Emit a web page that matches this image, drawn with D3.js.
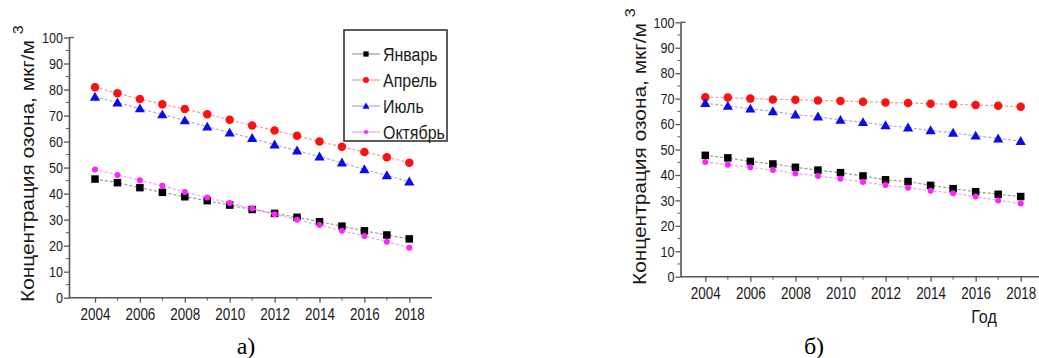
<!DOCTYPE html>
<html><head><meta charset="utf-8">
<script src="https://cdn.jsdelivr.net/npm/d3@7"></script>
<style>body{margin:0;background:#fff}svg{display:block}</style>
</head><body><svg id="c" width="1039" height="358"></svg>
<script>
// ---- data ----
const years = [2004,2005,2006,2007,2008,2009,2010,2011,2012,2013,2014,2015,2016,2017,2018];
const seriesNames = ["Январь","Апрель","Июль","Октябрь"];
const yTicks = [0,10,20,30,40,50,60,70,80,90,100];
const xTicks = [2004,2006,2008,2010,2012,2014,2016,2018];
const a_jan = [45.6,44.2,42.3,40.5,38.8,37.3,35.6,33.9,32.4,30.9,29.2,27.5,25.7,24.1,22.6];
const a_apr = [80.9,78.6,76.4,74.3,72.5,70.5,68.4,66.2,64.3,62.2,60.0,58.0,56.0,54.0,51.9];
const a_jul = [77.2,75.0,72.7,70.4,68.1,65.7,63.4,61.3,58.8,56.5,54.2,51.9,49.3,47.0,44.6];
const a_oct = [49.3,47.2,45.1,43.0,40.6,38.5,36.4,34.3,32.1,30.0,27.9,25.7,23.7,21.5,19.2];
const b_jan = [47.7,46.7,45.3,44.3,43.0,41.9,40.9,39.6,38.1,37.4,35.9,34.6,33.4,32.4,31.5];
const b_apr = [70.5,70.4,70.0,69.7,69.6,69.3,69.1,68.8,68.5,68.3,68.0,67.8,67.5,67.2,66.8];
const b_jul = [68.2,67.1,66.0,65.0,63.7,62.9,61.6,60.7,59.5,58.6,57.5,56.5,55.4,54.3,53.3];
const b_oct = [45.1,44.0,43.0,41.9,40.6,39.6,38.5,37.2,36.0,35.0,33.8,32.8,31.5,30.0,28.8];
const yLabel = "Концентрация озона, мкг/м";
const xLabelB = "Год";

// ---- styles ----
const styles = [
  {color:"#000000", line:"#9a9a9a", shape:"square", size:7.5},
  {color:"#ff1010", line:"#f59a9a", shape:"circle", size:8.5},
  {color:"#0a0aee", line:"#a8a8f0", shape:"triangle", size:8.5},
  {color:"#ff22ff", line:"#f0a0f0", shape:"circle", size:6}
];
const svg = d3.select("#c");
const font = "'Liberation Sans', Arial, sans-serif";

function marker(g, st, x, y) {
  if (st.shape === "square") {
    g.append("rect").attr("x", x - st.size/2).attr("y", y - st.size/2)
      .attr("width", st.size).attr("height", st.size).attr("fill", st.color);
  } else if (st.shape === "circle") {
    g.append("circle").attr("cx", x).attr("cy", y).attr("r", st.size/2).attr("fill", st.color);
  } else {
    const s = st.size;
    g.append("path").attr("d", `M${x},${y - s*0.6}L${x + s*0.6},${y + s*0.45}L${x - s*0.6},${y + s*0.45}Z`)
      .attr("fill", st.color);
  }
}

function panel(cfg) {
  const g = svg.append("g");
  const x = d3.scaleLinear().domain([2004, 2018]).range(cfg.xr);
  const y = d3.scaleLinear().domain([0, 100]).range(cfg.yr);
  const axisColor = "#555";
  // y axis
  const ya = g.append("g").attr("transform", `translate(${cfg.ax},0)`)
    .call(d3.axisLeft(y).tickValues(yTicks).tickSize(5).tickSizeOuter(0));
  ya.select(".domain").attr("stroke", axisColor).attr("stroke-width", 1.6);
  ya.selectAll(".tick line").attr("stroke", axisColor).attr("stroke-width", 1.3);
  ya.selectAll(".tick text").attr("font-family", font).attr("font-size", 15).attr("fill", "#1a1a1a")
    .attr("x", -7).attr("transform", "scale(0.84,1)");
  // minor y ticks
  const minorY = yTicks.slice(0, -1).map(v => v + 5);
  g.selectAll(".my").data(minorY).enter().append("line")
    .attr("x1", cfg.ax - 3).attr("x2", cfg.ax).attr("y1", d => y(d)).attr("y2", d => y(d))
    .attr("stroke", axisColor).attr("stroke-width", 1);
  // little cap at top
  g.append("line").attr("x1", cfg.ax).attr("x2", cfg.ax + 5).attr("y1", y(100)).attr("y2", y(100))
    .attr("stroke", axisColor).attr("stroke-width", 1.3);
  // x axis
  const xa = g.append("g").attr("transform", `translate(0,${y(0)})`)
    .call(d3.axisBottom(x).tickValues(xTicks).tickFormat(d3.format("d")).tickSize(5).tickSizeOuter(0));
  xa.select(".domain").remove();
  g.append("line").attr("x1", cfg.ax).attr("x2", cfg.xend).attr("y1", y(0)).attr("y2", y(0))
    .attr("stroke", axisColor).attr("stroke-width", 1.6);
  xa.selectAll(".tick line").attr("stroke", axisColor).attr("stroke-width", 1.3);
  xa.selectAll(".tick text").attr("font-family", font).attr("font-size", 16).attr("fill", "#1a1a1a")
    .attr("y", cfg.tickY).attr("dy", 0).attr("transform", "scale(0.84,1)");
  const minorX = years.filter(v => v % 2 === 1);
  g.selectAll(".mx").data(minorX).enter().append("line")
    .attr("x1", d => x(d)).attr("x2", d => x(d)).attr("y1", y(0)).attr("y2", y(0) + 3)
    .attr("stroke", axisColor).attr("stroke-width", 1);
  // y label
  const t = g.append("text").attr("transform", `translate(${cfg.lx},${cfg.ly}) rotate(-90) scale(1.16,1)`)
    .attr("font-family", font).attr("font-size", 18).attr("fill", "#1a1a1a");
  t.append("tspan").text(yLabel);
  t.append("tspan").attr("font-size", 14).attr("dy", "-0.8em").attr("dx", "5").text("3");
  // series
  cfg.data.forEach((vals, i) => {
    const st = styles[i];
    const line = d3.line().x((d, j) => x(years[j])).y(d => y(d));
    g.append("path").attr("d", line(vals)).attr("fill", "none").attr("stroke", st.line)
      .attr("stroke-width", 1.2).attr("stroke-dasharray", "3,2");
    const mg = g.append("g");
    vals.forEach((v, j) => marker(mg, st, x(years[j]), y(v)));
  });
  // panel caption
  svg.append("text").attr("x", cfg.capX).attr("y", 354).attr("text-anchor", "middle")
    .attr("font-family", "'Liberation Serif','Times New Roman',serif").attr("font-size", 24)
    .attr("fill", "#000").text(cfg.caption);
  return {x, y, g};
}

const A = panel({xr:[95, 409.3], yr:[297.7, 37.5], ax:69, xend:432, tickY:22, lx:34, ly:302,
  data:[a_jan, a_apr, a_jul, a_oct], caption:"а)", capX:246});
const B = panel({xr:[705.3, 1020.7], yr:[276.7, 22.3], ax:680.5, xend:1039, tickY:22, lx:646, ly:285,
  data:[b_jan, b_apr, b_jul, b_oct], caption:"б)", capX:814});

// x label for panel б
svg.append("text").attr("transform", "translate(984,323) scale(0.85,1)").attr("text-anchor", "middle")
  .attr("font-family", font).attr("font-size", 19).attr("fill", "#1a1a1a").text(xLabelB);

// legend (panel а)
const lg = svg.append("g");
lg.append("rect").attr("x", 344).attr("y", 30).attr("width", 103).attr("height", 111)
  .attr("fill", "#fff").attr("stroke", "#333").attr("stroke-width", 1.6);
seriesNames.forEach((name, i) => {
  const yy = 54 + i * 26;
  const st = styles[i];
  lg.append("line").attr("x1", 352).attr("x2", 380).attr("y1", yy).attr("y2", yy)
    .attr("stroke", st.line).attr("stroke-width", 1.2);
  marker(lg, {...st, size: st.size * 0.7}, 366, yy);
  lg.append("text").attr("transform", `translate(383,${yy + 7}) scale(0.84,1)`)
    .attr("font-family", font).attr("font-size", 19).attr("fill", "#1a1a1a").text(name);
});
</script></body></html>
